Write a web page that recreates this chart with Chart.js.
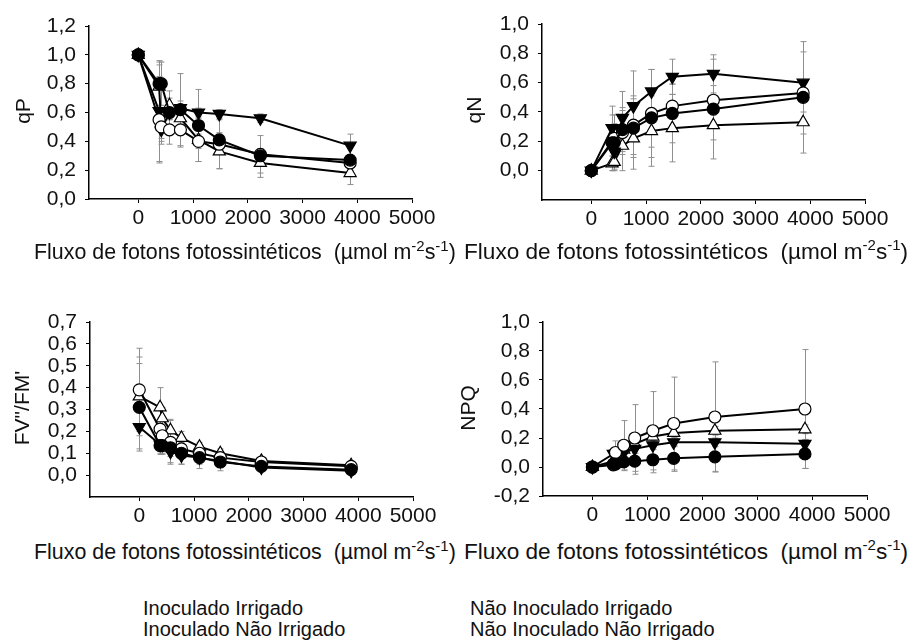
<!DOCTYPE html>
<html>
<head>
<meta charset="utf-8">
<script src="https://cdn.jsdelivr.net/npm/chart.js@4.4.1/dist/chart.umd.min.js"></script>
<style>
    body { margin: 0; background: #fff; width: 920px; height: 640px; position: relative; overflow: hidden;
           font-family: Arial, "Liberation Sans", sans-serif; color: #111; }
    canvas { position: absolute; }
    .ytitle { position: absolute; transform: translate(-50%, -50%) rotate(-90deg); font-size: 21px; white-space: nowrap; }
    .xtitle { position: absolute; font-size: 21.4px; white-space: nowrap; line-height: 24px; }
    .xtitle.wide { font-size: 22.6px; }
    .xtitle sup { font-size: 15px; }
    .leg { position: absolute; font-size: 20px; white-space: nowrap; line-height: 22px; }
</style>
</head>
<body>
<canvas id="c-qp" width="460" height="240" style="left:0;top:0"></canvas>
<canvas id="c-qn" width="460" height="240" style="left:460px;top:0"></canvas>
<canvas id="c-fv" width="460" height="240" style="left:0;top:290px"></canvas>
<canvas id="c-npq" width="460" height="240" style="left:460px;top:290px"></canvas>

<div class="ytitle" style="left:23px;top:111px">qP</div>
<div class="ytitle" style="left:474px;top:110px">qN</div>
<div class="ytitle" style="left:22px;top:408px">FV"/FM'</div>
<div class="ytitle" style="left:468px;top:408px">NPQ</div>

<div class="xtitle" style="left:34px;top:234px">Fluxo de fotons fotossintéticos&nbsp; (µmol m<sup>-2</sup>s<sup>-1</sup>)</div>
<div class="xtitle wide" style="left:464px;top:233px">Fluxo de fotons fotossintéticos&nbsp; (µmol m<sup>-2</sup>s<sup>-1</sup>)</div>
<div class="xtitle" style="left:34px;top:534px">Fluxo de fotons fotossintéticos&nbsp; (µmol m<sup>-2</sup>s<sup>-1</sup>)</div>
<div class="xtitle wide" style="left:464px;top:533px">Fluxo de fotons fotossintéticos&nbsp; (µmol m<sup>-2</sup>s<sup>-1</sup>)</div>

<div id="legend"></div>

<script>
    // light levels (µmol m-2 s-1) shared by all panels
    const par = [0, 380, 420, 570, 770, 1100, 1480, 2230, 3870];
    const xTicks = [0, 1000, 2000, 3000, 4000, 5000];

    const treatments = ['Inoculado Irrigado', 'Inoculado Não Irrigado', 'Não Inoculado Irrigado', 'Não Inoculado Não Irrigado'];

    // qP
    const qpInocIrr = [1.00, 0.80, 0.80, 0.60, 0.62, 0.51, 0.41, 0.30, 0.27];
    const qpInocNaoIrr = [1.00, 0.55, 0.50, 0.48, 0.48, 0.40, 0.38, 0.31, 0.25];
    const qpNaoInocIrr = [1.00, 0.61, 0.48, 0.60, 0.63, 0.60, 0.59, 0.56, 0.37];
    const qpNaoInocNaoIrr = [1.00, 0.78, 0.52, 0.65, 0.56, 0.41, 0.33, 0.25, 0.18];
    const qpErrInocIrr = [0, 0.15, 0.15, 0.10, 0.25, 0.25, 0.05, 0.03, 0.03];
    const qpErrInocNaoIrr = [0, 0.30, 0.10, 0.10, 0.12, 0.05, 0.17, 0.13, 0.05];
    const qpErrNaoInocIrr = [0, 0.35, 0.10, 0.05, 0.05, 0.03, 0.03, 0.03, 0.08];
    const qpErrNaoInocNaoIrr = [0, 0.15, 0.10, 0.10, 0.05, 0.15, 0.12, 0.10, 0.08];

    // qN
    const qnInocIrr = [0, 0.19, 0.19, 0.28, 0.29, 0.36, 0.39, 0.42, 0.50];
    const qnInocNaoIrr = [0, 0.20, 0.22, 0.26, 0.31, 0.39, 0.44, 0.48, 0.53];
    const qnNaoInocIrr = [0, 0.29, 0.13, 0.36, 0.44, 0.54, 0.64, 0.66, 0.60];
    const qnNaoInocNaoIrr = [0, 0.05, 0.06, 0.17, 0.22, 0.27, 0.29, 0.31, 0.33];
    const qnErrInocIrr = [0, 0.19, 0.19, 0.15, 0.20, 0.20, 0.20, 0.34, 0.10];
    const qnErrInocNaoIrr = [0, 0.10, 0.10, 0.15, 0.20, 0.30, 0.15, 0.10, 0.28];
    const qnErrNaoInocIrr = [0, 0.15, 0.10, 0.18, 0.24, 0.15, 0.12, 0.13, 0.28];
    const qnErrNaoInocNaoIrr = [0, 0.05, 0.05, 0.17, 0.21, 0.24, 0.23, 0.10, 0.21];

    // FV'/FM'
    const fvInocIrr = [0.31, 0.135, 0.135, 0.125, 0.10, 0.08, 0.06, 0.04, 0.025];
    const fvInocNaoIrr = [0.39, 0.21, 0.18, 0.15, 0.12, 0.10, 0.08, 0.06, 0.04];
    const fvNaoInocIrr = [0.22, 0.14, 0.14, 0.107, 0.09, 0.08, 0.065, 0.035, 0.02];
    const fvNaoInocNaoIrr = [0.36, 0.31, 0.26, 0.205, 0.17, 0.13, 0.10, 0.065, 0.045];
    const fvErrInocIrr = [0.20, 0.04, 0.04, 0.04, 0.05, 0.05, 0.04, 0.01, 0.01];
    const fvErrInocNaoIrr = [0.19, 0.04, 0.04, 0.10, 0.04, 0.03, 0.02, 0.01, 0.01];
    const fvErrNaoInocIrr = [0.10, 0.04, 0.04, 0.05, 0.04, 0.03, 0.02, 0.01, 0.01];
    const fvErrNaoInocNaoIrr = [0.18, 0.09, 0.05, 0.05, 0.03, 0.02, 0.02, 0.01, 0.01];

    // NPQ
    const npqInocIrr = [0, 0.02, 0.02, 0.035, 0.04, 0.05, 0.06, 0.07, 0.09];
    const npqInocNaoIrr = [0, 0.015, 0.10, 0.15, 0.20, 0.25, 0.30, 0.345, 0.40];
    const npqNaoInocIrr = [0, 0.09, 0.09, 0.10, 0.125, 0.15, 0.17, 0.17, 0.16];
    const npqNaoInocNaoIrr = [0, 0.04, 0.05, 0.12, 0.16, 0.21, 0.235, 0.25, 0.26];
    const npqErrInocIrr = [0, 0.02, 0.02, 0.06, 0.09, 0.09, 0.09, 0.10, 0.10];
    const npqErrInocNaoIrr = [0, 0.02, 0.08, 0.17, 0.23, 0.27, 0.32, 0.38, 0.41];
    const npqErrNaoInocIrr = [0, 0.03, 0.03, 0.03, 0.03, 0.03, 0.03, 0.03, 0.03];
    const npqErrNaoInocNaoIrr = [0, 0.02, 0.02, 0.03, 0.03, 0.03, 0.03, 0.03, 0.03];

    // marker per treatment: filled circle, open circle, filled triangle down, open triangle up
    const markers = [
        { pointStyle: 'circle', rotation: 0, fill: '#000', radius: 6 },
        { pointStyle: 'circle', rotation: 0, fill: '#fff', radius: 6 },
        { pointStyle: 'triangle', rotation: 180, fill: '#000', radius: 7 },
        { pointStyle: 'triangle', rotation: 0, fill: '#fff', radius: 7 }
    ];

    const errorBars = {
        id: 'errorBars',
        beforeDatasetsDraw(chart) {
            const { ctx, scales: { x, y } } = chart;
            ctx.save();
            ctx.strokeStyle = '#8f8f8f';
            ctx.lineWidth = 1;
            chart.data.datasets.forEach(ds => {
                ds.data.forEach((p, i) => {
                    const e = ds.errors[i];
                    if (!e) return;
                    const px = Math.round(x.getPixelForValue(p.x)) + 0.5;
                    const top = y.getPixelForValue(p.y + e);
                    const bot = y.getPixelForValue(p.y - e);
                    ctx.beginPath();
                    ctx.moveTo(px, top); ctx.lineTo(px, bot);
                    ctx.moveTo(px - 3, top); ctx.lineTo(px + 3, top);
                    ctx.moveTo(px - 3, bot); ctx.lineTo(px + 3, bot);
                    ctx.stroke();
                });
            });
            ctx.restore();
        }
    };

    const comma = v => v.toFixed(1).replace('.', ',');

    function makePanel(id, area, yMin, yMax, yTicks, values, errors) {
        const W = 460, H = 240;
        const datasets = values.map((vals, k) => ({
            label: treatments[k],
            data: vals.map((v, i) => ({ x: par[i], y: v })),
            errors: errors[k],
            showLine: true,
            borderColor: '#000',
            borderWidth: 2,
            pointStyle: markers[k].pointStyle,
            pointRotation: markers[k].rotation,
            pointRadius: markers[k].radius,
            pointBackgroundColor: markers[k].fill,
            pointBorderColor: '#000',
            pointBorderWidth: 1.2,
            clip: false
        }));

        new Chart(document.getElementById(id), {
            type: 'scatter',
            data: { datasets },
            plugins: [errorBars],
            options: {
                responsive: false,
                animation: false,
                layout: { autoPadding: false, padding: { left: 0, top: area.t, right: W - area.r, bottom: 0 } },
                plugins: { legend: { display: false }, tooltip: { enabled: false } },
                scales: {
                    x: {
                        type: 'linear', min: -900, max: 5000,
                        afterBuildTicks: axis => { axis.ticks = xTicks.map(v => ({ value: v })); },
                        afterFit: s => { s.height = H - area.b; },
                        border: { display: true, color: '#000', width: 1.5 },
                        grid: { display: true, drawOnChartArea: false, drawTicks: true, tickLength: 4, color: '#000' },
                        ticks: { color: '#111', font: { size: 21, family: 'Arial, "Liberation Sans"' }, padding: 3,
                                 maxRotation: 0, autoSkip: false, callback: v => String(v) }
                    },
                    y: {
                        type: 'linear', min: yMin, max: yMax,
                        afterBuildTicks: axis => { axis.ticks = yTicks.map(v => ({ value: v })); },
                        afterFit: s => { s.width = area.l; },
                        border: { display: true, color: '#000', width: 1.5 },
                        grid: { display: true, drawOnChartArea: false, drawTicks: true, tickLength: 4, color: '#000' },
                        ticks: { color: '#111', font: { size: 21, family: 'Arial, "Liberation Sans"' }, padding: 9,
                                 autoSkip: false, callback: v => comma(v) }
                    }
                }
            }
        });
    }

    makePanel('c-qp', { l: 89, r: 412, t: 26, b: 199 }, 0, 1.2, [0, 0.2, 0.4, 0.6, 0.8, 1.0, 1.2],
        [qpInocIrr, qpInocNaoIrr, qpNaoInocIrr, qpNaoInocNaoIrr],
        [qpErrInocIrr, qpErrInocNaoIrr, qpErrNaoInocIrr, qpErrNaoInocNaoIrr]);

    makePanel('c-qn', { l: 82, r: 405, t: 24, b: 200 }, -0.2, 1.0, [0, 0.2, 0.4, 0.6, 0.8, 1.0],
        [qnInocIrr, qnInocNaoIrr, qnNaoInocIrr, qnNaoInocNaoIrr],
        [qnErrInocIrr, qnErrInocNaoIrr, qnErrNaoInocIrr, qnErrNaoInocNaoIrr]);

    makePanel('c-fv', { l: 90, r: 413, t: 32, b: 207 }, -0.1, 0.7, [0, 0.1, 0.2, 0.3, 0.4, 0.5, 0.6, 0.7],
        [fvInocIrr, fvInocNaoIrr, fvNaoInocIrr, fvNaoInocNaoIrr],
        [fvErrInocIrr, fvErrInocNaoIrr, fvErrNaoInocIrr, fvErrNaoInocNaoIrr]);

    makePanel('c-npq', { l: 83, r: 407, t: 32, b: 206 }, -0.2, 1.0, [-0.2, 0, 0.2, 0.4, 0.6, 0.8, 1.0],
        [npqInocIrr, npqInocNaoIrr, npqNaoInocIrr, npqNaoInocNaoIrr],
        [npqErrInocIrr, npqErrInocNaoIrr, npqErrNaoInocIrr, npqErrNaoInocNaoIrr]);

    // legend text, two columns, in the same order as the treatments
    const legendPos = [[143, 597], [143, 618], [470, 597], [470, 618]];
    const legendBox = document.getElementById('legend');
    treatments.forEach((name, k) => {
        const d = document.createElement('div');
        d.className = 'leg';
        d.style.left = legendPos[k][0] + 'px';
        d.style.top = legendPos[k][1] + 'px';
        d.textContent = name;
        legendBox.appendChild(d);
    });
</script>
</body>
</html>
